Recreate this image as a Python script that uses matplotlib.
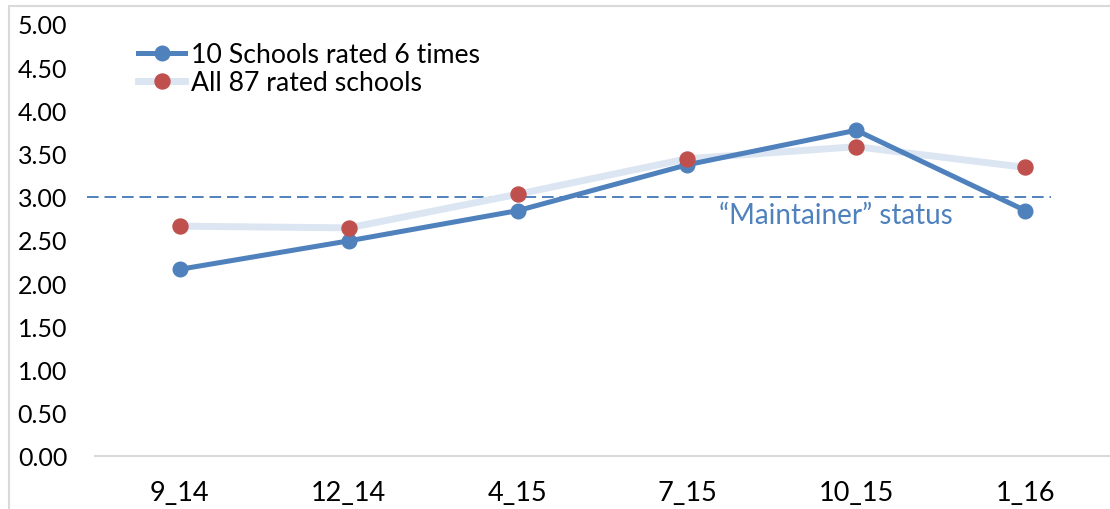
import matplotlib
matplotlib.use("Agg")
import matplotlib.pyplot as plt
from matplotlib.lines import Line2D
from matplotlib.patches import Rectangle

plt.rcParams['font.family'] = ['Lato', 'DejaVu Sans']

# rating rounds and average scores
rounds = ["9_14", "12_14", "4_15", "7_15", "10_15", "1_16"]
ten_schools = [2.16, 2.49, 2.84, 3.37, 3.77, 2.84]
all_schools = [2.66, 2.64, 3.03, 3.44, 3.58, 3.34]
maintainer_level = 3.0

blue = "#4F81BD"
light = "#DCE6F2"
red = "#C0504D"

fig = plt.figure(figsize=(11.1, 5.1), dpi=100)
ax = fig.add_axes([0.0856, 0.104, 0.9144, 0.847])

x = list(range(len(rounds)))
ax.plot(x, all_schools, color=light, lw=5, solid_capstyle="round", zorder=2)
ax.plot(x, ten_schools, color=blue, lw=3.6, marker="o", ms=10.5, zorder=3)
ax.plot(x, all_schools, ls="none", marker="o", ms=10.8, color=red, zorder=4)

# maintainer threshold
ax.plot([-0.55, 5.15], [maintainer_level, maintainer_level], ls=(0, (6, 3)),
        color=blue, lw=1.4, clip_on=False, zorder=1)
ax.text(3.88, maintainer_level - 0.06, "\u201cMaintainer\u201d status", color=blue,
        fontsize=20, ha="center", va="top")

ax.set_xlim(-0.5, 5.5)
ax.set_ylim(0, 5)
ax.set_xticks(x)
ax.set_xticklabels(rounds, fontsize=19.5)
ax.set_yticks([i * 0.5 for i in range(11)])
ax.set_yticklabels(["%.2f" % (i * 0.5) for i in range(11)], fontsize=18)
ax.tick_params(axis="both", length=0)
ax.tick_params(axis="y", pad=20)
ax.tick_params(axis="x", pad=17)
for s in ["left", "right", "top"]:
    ax.spines[s].set_visible(False)
ax.spines["bottom"].set_color("#D9D9D9")
ax.spines["bottom"].set_linewidth(1.5)

handles = [
    Line2D([], [], color=blue, lw=3.6, marker="o", ms=10.5),
    Line2D([], [], color=light, lw=5, marker="o", ms=10.8, mfc=red, mec=red),
]
fig.legend(handles, ["10 Schools rated 6 times", "All 87 rated schools"],
           loc="upper left", bbox_to_anchor=(138 / 1110, 1 - 43 / 510),
           frameon=False, borderpad=0, borderaxespad=0,
           fontsize=19.2, handlelength=1.78, handletextpad=0.2, labelspacing=0.13)

# chart border
fig.patches.append(Rectangle((9 / 1110, -0.1), 1.2, 1.1 - 7 / 510,
                             transform=fig.transFigure, fill=False,
                             edgecolor="#D9D9D9", lw=1.5))

fig.savefig("out.png", dpi=100)
